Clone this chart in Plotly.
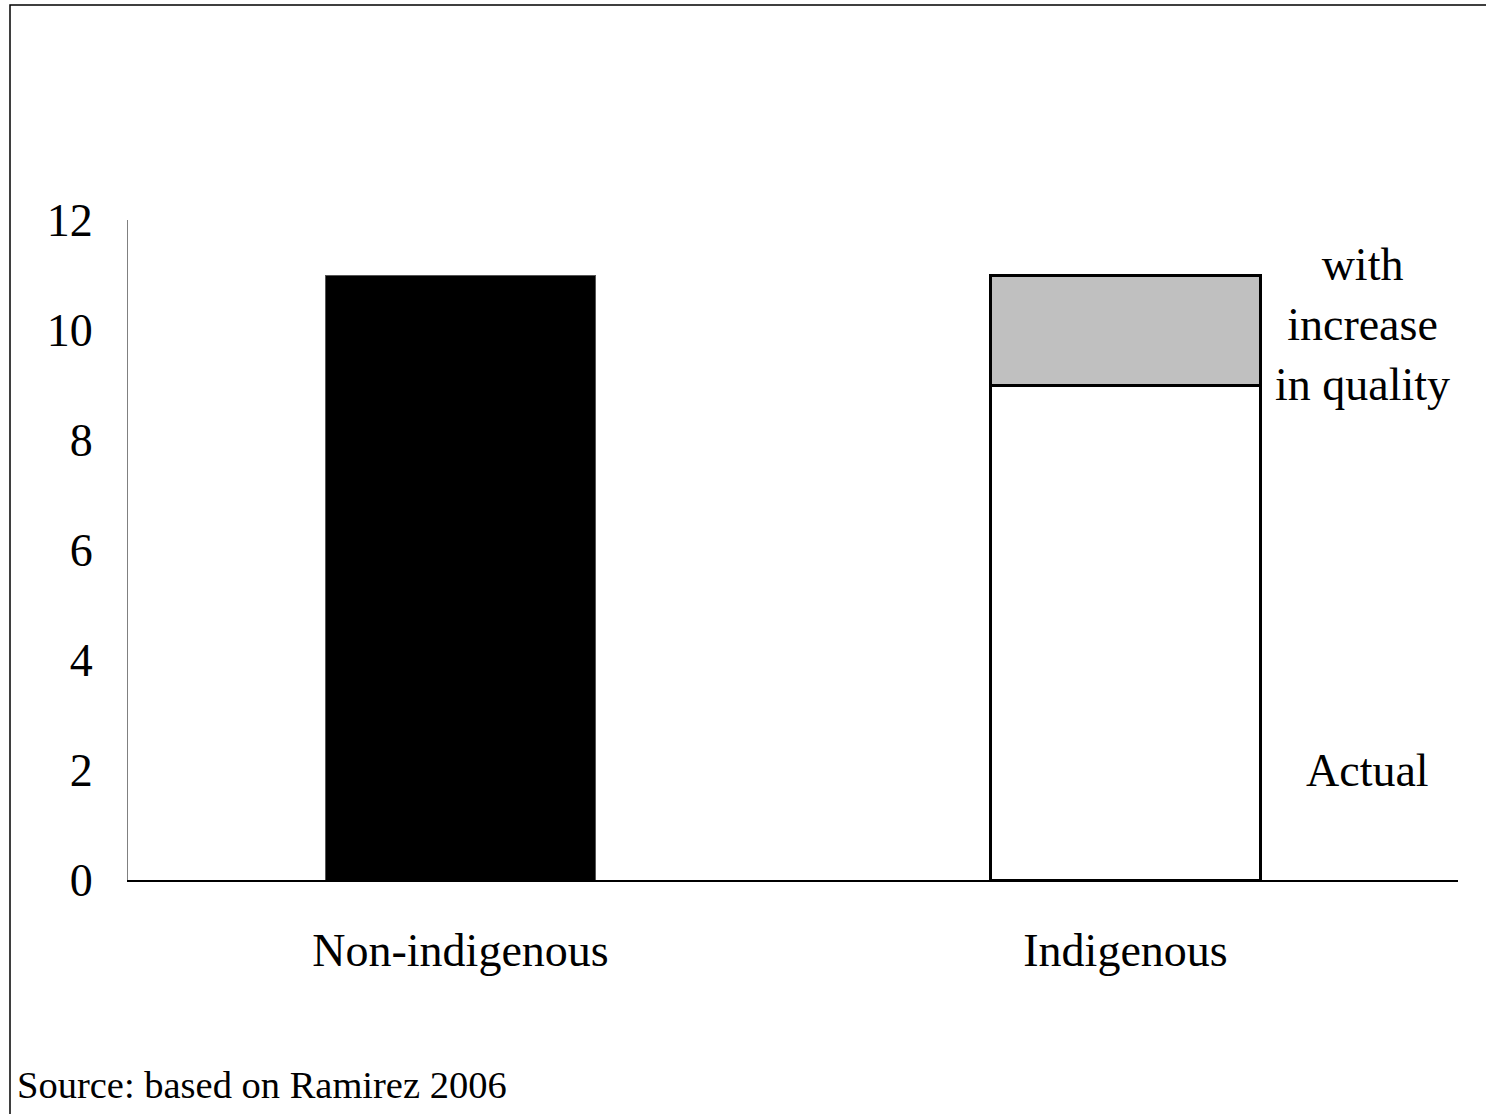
import plotly.graph_objects as go

# dados
categorias = ['Non-indigenous', 'Indigenous']
atual = [11.0, 9.0]
aumento_qualidade = [None, 2.0]
y_ticks = [0, 2, 4, 6, 8, 10, 12]

fonte = 'Liberation Serif'

fig = go.Figure()

fig.add_trace(go.Bar(
    x=categorias,
    y=atual,
    name='Actual',
    marker=dict(color=['black', 'white'],
                line=dict(color=['#555555', 'black'], width=[1, 3]))
))

fig.add_trace(go.Bar(
    x=categorias,
    y=aumento_qualidade,
    name='with increase in quality',
    marker=dict(color='#C0C0C0', line=dict(color='black', width=3))
))

fig.update_layout(
    width=1486,
    height=1114,
    barmode='stack',
    bargap=0.595,
    showlegend=False,
    plot_bgcolor='white',
    paper_bgcolor='white',
    margin=dict(l=128, r=28, t=220, b=234),
    font=dict(family=fonte, size=46, color='black'),
    xaxis=dict(
        showline=True, linecolor='black', linewidth=1.5,
        ticks='', showgrid=False, ticklabelstandoff=29,
        tickfont=dict(size=46)
    ),
    yaxis=dict(
        range=[0, 12], tickvals=y_ticks,
        showline=True, linecolor='#808080', linewidth=1,
        ticks='', showgrid=False, zeroline=False, ticklabelstandoff=25,
        tickfont=dict(size=46)
    ),
)

fig.add_annotation(
    x=0.928, xref='paper', y=10.1, yref='y',
    xanchor='center', yanchor='middle',
    text='with<br>increase<br>in quality',
    showarrow=False, align='center',
    font=dict(family=fonte, size=46)
)
fig.add_annotation(
    x=0.932, xref='paper', y=2.0, yref='y',
    xanchor='center', yanchor='middle',
    text='Actual', showarrow=False,
    font=dict(family=fonte, size=46)
)
fig.add_annotation(
    x=(15 - 128) / 1330, xref='paper', y=-0.3106, yref='paper',
    xanchor='left', yanchor='middle',
    text='Source: based on Ramirez 2006', showarrow=False,
    font=dict(family=fonte, size=38.5)
)

# moldura em volta da figura
fig.add_shape(
    type='rect', xref='paper', yref='paper',
    x0=(10 - 128) / 1330, x1=(1490 - 128) / 1330,
    y0=(880 - 1120) / 660, y1=(880 - 5) / 660,
    line=dict(color='black', width=1.5)
)

# tira a margem padrão da página para o gráfico começar em (0, 0)
fig.write_html("out.html", config={'displayModeBar': False},
               post_script="document.body.style.margin='0';")
